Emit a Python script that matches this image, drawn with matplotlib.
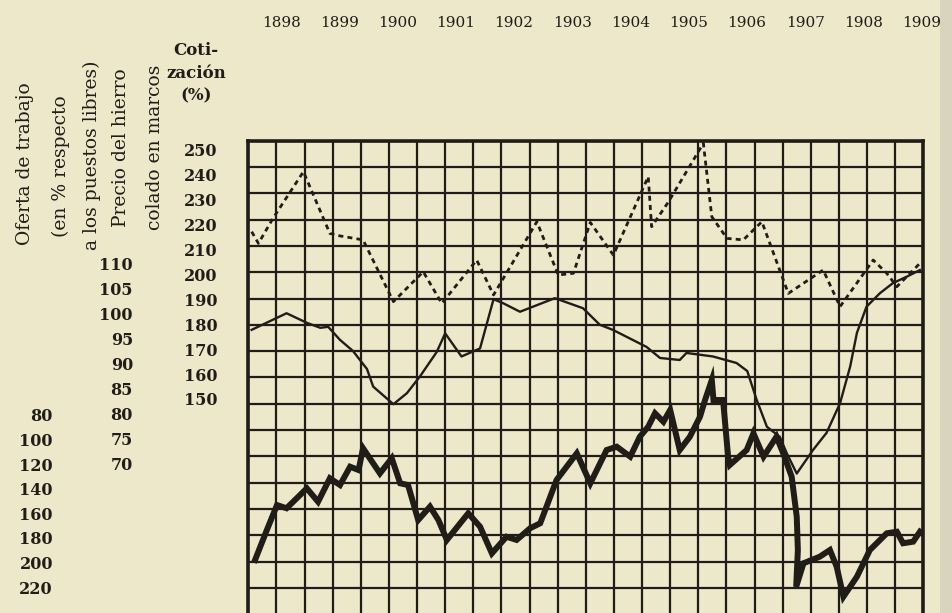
"""
Cotización, precio del hierro colado y oferta de trabajo, 1898-1909.

Reproduce a scanned grid chart: three series on their own scales,
with the scale labels printed as columns left of the grid.
"""

import matplotlib.pyplot as plt
from matplotlib.patches import Rectangle

# --- Data -----------------------------------------------------------------

# Cotización (%) - dotted line
cot_years = [
    1898.06, 1898.18, 1898.44, 1898.98, 1899.45, 1899.63, 1900.04, 1900.58,
    1901.11, 1901.44, 1902.06, 1902.36, 1903.13, 1903.51, 1903.78, 1904.08,
    1904.49, 1905.11, 1905.17, 1905.47, 1906.09, 1906.24, 1906.51, 1906.80,
    1907.13, 1907.60, 1908.22, 1908.52, 1909.11, 1909.35, 1909.53, 1909.94,
]
cot_values = [
    217.2, 212.5, 222.6, 241.3, 216.5, 215.5, 213.9, 189.1,
    201.1, 188.4, 205.8, 191.8, 221.2, 199.8, 200.5, 220.9,
    207.8, 239.3, 219.2, 229.2, 252.7, 223.2, 214.5, 213.9,
    221.2, 192.4, 201.8, 187.1, 205.8, 200.5, 195.1, 204.5,
]

# Precio del hierro colado en marcos - thin solid line
hierro_years = [
    1898.06, 1898.68, 1899.04, 1899.28, 1899.42, 1899.63, 1899.86, 1900.11,
    1900.22, 1900.58, 1900.82, 1901.05, 1901.35, 1901.50, 1901.79, 1902.12,
    1902.36, 1902.53, 1902.83, 1903.45, 1903.95, 1904.25, 1904.48, 1905.08,
    1905.32, 1905.67, 1905.79, 1906.26, 1906.68, 1906.87, 1907.04, 1907.22,
    1907.45, 1907.57, 1907.75, 1908.04, 1908.28, 1908.52, 1908.70, 1908.82,
    1908.99, 1909.23, 1909.46, 1909.71, 1909.94,
]
hierro_values = [
    96.7, 100.0, 98.1, 97.1, 97.3, 94.7, 92.5, 88.9,
    85.4, 81.9, 84.1, 87.4, 92.3, 96.0, 91.4, 93.0,
    102.8, 102.0, 100.3, 103.0, 101.0, 97.7, 96.7, 93.3,
    91.1, 90.7, 92.1, 91.4, 90.1, 88.5, 82.7, 77.4,
    75.4, 72.2, 68.1, 72.8, 76.2, 82.1, 89.4, 96.1,
    101.3, 104.0, 106.0, 107.3, 108.6,
]

# Oferta de trabajo (en % respecto a los puestos libres) - thick line
oferta_years = [
    1898.12, 1898.33, 1898.51, 1898.68, 1898.83, 1899.04, 1899.24, 1899.45,
    1899.63, 1899.81, 1899.96, 1900.04, 1900.34, 1900.55, 1900.70, 1900.84,
    1901.02, 1901.23, 1901.38, 1901.53, 1901.91, 1902.12, 1902.33, 1902.59,
    1902.77, 1903.01, 1903.19, 1903.48, 1903.84, 1904.08, 1904.37, 1904.55,
    1904.79, 1904.96, 1905.11, 1905.23, 1905.38, 1905.50, 1905.67, 1905.85,
    1906.03, 1906.12, 1906.24, 1906.27, 1906.44, 1906.53, 1906.56, 1906.86,
    1906.98, 1907.16, 1907.39, 1907.51, 1907.66, 1907.75, 1907.77, 1907.74,
    1907.87, 1908.16, 1908.34, 1908.46, 1908.58, 1908.82, 1909.05, 1909.35,
    1909.53, 1909.64, 1909.82, 1909.94,
]
oferta_values = [
    198.0, 173.6, 153.3, 155.9, 149.2, 139.7, 150.6, 131.5,
    137.0, 122.1, 124.8, 107.1, 127.5, 115.2, 135.6, 137.0,
    165.5, 154.6, 165.5, 181.7, 160.0, 170.9, 192.6, 179.1,
    181.7, 172.2, 168.1, 132.9, 111.2, 135.6, 108.5, 105.8,
    113.9, 97.7, 89.5, 78.6, 85.5, 75.9, 108.5, 97.7,
    81.4, 67.8, 51.5, 67.8, 67.8, 113.9, 120.7, 108.5,
    94.9, 113.9, 97.7, 111.2, 130.2, 162.8, 189.9, 219.8,
    200.7, 195.3, 189.9, 203.5, 227.9, 211.6, 189.9, 176.3,
    175.0, 184.4, 183.1, 175.0,
]

# Scale labels and headings
year_labels = list(range(1898, 1910))
cot_ticks = [250, 240, 230, 220, 210, 200, 190, 180, 170, 160, 150]
hierro_ticks = [110, 105, 100, 95, 90, 85, 80, 75, 70]
oferta_ticks = [80, 100, 120, 140, 160, 180, 200, 220]
cot_title = "Coti-\nzación\n(%)"
oferta_title = ["Oferta de trabajo", "(en % respecto", "a los puestos libres)"]
hierro_title = ["Precio del hierro", "colado en marcos"]

# --- Style -----------------------------------------------------------------

W, H, DPI = 953, 613, 100
PAPER = "#EDE8CA"
INK = "#201d19"
SERIF = "DejaVu Serif"

# Grid geometry in pixels (top-left origin)
GRID_LEFT, GRID_RIGHT = 248.3, 923.3
GRID_TOP, ROW_H, N_ROWS = 140.7, 26.3, 19


def fx(px):
    """Pixel x -> figure fraction."""
    return px / W


def fy(py):
    """Pixel y (from top) -> figure fraction (from bottom)."""
    return 1 - py / H


def scale_limits(v_a, y_a, v_b, y_b, top, bottom):
    """Return (bottom, top) data limits so v_a sits at y_a px and v_b at y_b px."""
    k = (v_b - v_a) / (y_b - y_a)
    return v_a + (bottom - y_a) * k, v_a + (top - y_a) * k


def main():
    plt.rcParams["font.family"] = [SERIF, "DejaVu Sans"]
    fig = plt.figure(figsize=(W / DPI, H / DPI), dpi=DPI, facecolor=PAPER)

    # Slightly darker page edge on the right, behind everything
    fig.patches.append(
        Rectangle((fx(940), 0), 1 - fx(940), 1, transform=fig.transFigure,
                  facecolor="#d9d4bd", edgecolor="none", zorder=-5)
    )

    grid_bottom = GRID_TOP + ROW_H * N_ROWS
    pos = [fx(GRID_LEFT), fy(grid_bottom), fx(GRID_RIGHT) - fx(GRID_LEFT),
           fy(GRID_TOP) - fy(grid_bottom)]

    # Base grid: half-year columns, plain rows
    ax = fig.add_axes(pos)
    ax.set_facecolor("none")
    ax.set_xlim(1898, 1910)
    ax.set_ylim(N_ROWS, 0)
    ax.set_xticks([1898 + 0.5 * i for i in range(25)])
    ax.set_yticks(range(N_ROWS + 1))
    ax.grid(True, color=INK, linewidth=1.6)
    ax.tick_params(length=0, labelleft=False, labelbottom=False)
    for sp in ax.spines.values():
        sp.set_linewidth(2.6)
        sp.set_color(INK)

    # Cotización: 250 at 150 px, 150 at 399 px; labels centred
    ax_cot = ax.twinx()
    ax_cot.set_ylim(*scale_limits(250, 150, 150, 399, GRID_TOP, grid_bottom))
    ax_cot.plot(cot_years, cot_values, color=INK, linewidth=2.0,
                linestyle=(0, (1.8, 1.5)))

    # Precio del hierro: 110 at 263 px, 70 at 464 px
    ax_hie = ax.twinx()
    ax_hie.set_ylim(*scale_limits(110, 263, 70, 464, GRID_TOP, grid_bottom))
    ax_hie.plot(hierro_years, hierro_values, color=INK, linewidth=1.7)

    # Oferta de trabajo: inverted, 80 at 415 px, 220 at 587 px
    ax_of = ax.twinx()
    ax_of.set_ylim(*scale_limits(80, 415, 220, 587, GRID_TOP, grid_bottom))
    ax_of.plot(oferta_years, oferta_values, color=INK, linewidth=4.3,
               solid_joinstyle="miter")

    # Scale label columns on the left (pad in points)
    for axis, ticks, pad_px, ha in [
        (ax_cot, cot_ticks, GRID_LEFT - 201, "center"),
        (ax_hie, hierro_ticks, GRID_LEFT - 133, "right"),
        (ax_of, oferta_ticks, GRID_LEFT - 53, "right"),
    ]:
        for sp in axis.spines.values():
            sp.set_visible(False)
        axis.yaxis.tick_left()
        axis.set_yticks(ticks)
        axis.set_yticklabels([str(t) for t in ticks], fontsize=11.5,
                             fontweight="bold", color=INK)
        axis.tick_params(axis="y", length=0, pad=pad_px * 72 / DPI)
        for lbl in axis.get_yticklabels():
            lbl.set_ha(ha)

    # Year labels along the top
    ax_years = fig.add_axes([fx(252), fy(35), fx(951) - fx(252), fy(11) - fy(35)])
    ax_years.set_xlim(1897.5, 1909.5)
    ax_years.set_ylim(0, 1)
    ax_years.axis("off")
    for y in year_labels:
        ax_years.text(y, 0.5, str(y), ha="center", va="center",
                      fontsize=11, color=INK)

    # Headings
    fig.text(fx(196), fy(73), cot_title, ha="center", va="center",
             fontsize=12, fontweight="bold", color=INK, linespacing=1.45)
    for text, x_px, y_px in zip(oferta_title, [25, 61, 92], [164, 166, 155]):
        fig.text(fx(x_px), fy(y_px), text, rotation=90, ha="center",
                 va="center", fontsize=13.5, color=INK)
    for text, x_px, y_px in zip(hierro_title, [121, 155], [148, 147]):
        fig.text(fx(x_px), fy(y_px), text, rotation=90, ha="center",
                 va="center", fontsize=13.5, color=INK)

    fig.savefig("out.png", dpi=DPI, facecolor=fig.get_facecolor())


if __name__ == "__main__":
    main()
